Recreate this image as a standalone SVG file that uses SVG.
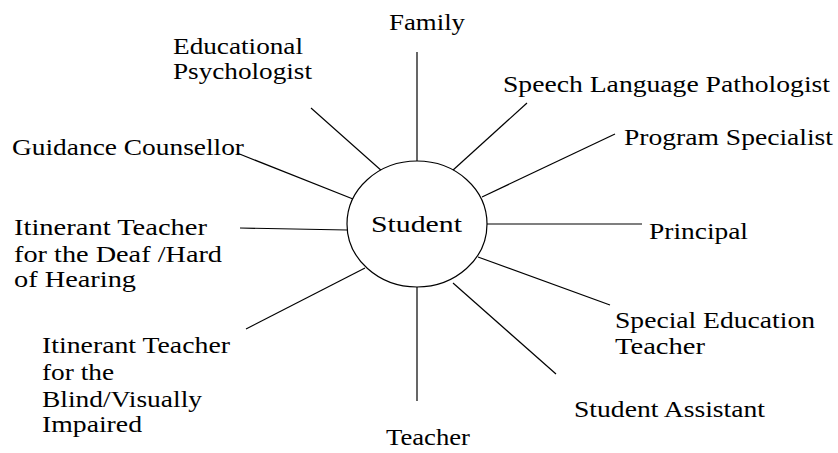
<svg xmlns="http://www.w3.org/2000/svg" width="838" height="453" viewBox="0 0 838 453">
  <style>
    .lbl { font-family: 'Liberation Serif', 'Times New Roman', Times, serif; font-size: 24px; fill: #000; }
    .spoke { stroke: #000; stroke-width: 1.2; fill: none; }
  </style>
  <rect width="838" height="453" fill="#fff"/>

  <!-- spokes from the student to each support role -->
  <g id="connectors">
    <line class="spoke" x1="417" y1="52" x2="417" y2="161"/>
    <line class="spoke" x1="311" y1="108" x2="383" y2="172"/>
    <line class="spoke" x1="237" y1="153" x2="353" y2="199"/>
    <line class="spoke" x1="240" y1="228" x2="347" y2="230"/>
    <line class="spoke" x1="246" y1="329" x2="365" y2="268"/>
    <line class="spoke" x1="417" y1="287" x2="417" y2="401"/>
    <line class="spoke" x1="453" y1="283" x2="556" y2="374"/>
    <line class="spoke" x1="478" y1="257" x2="610" y2="305"/>
    <line class="spoke" x1="485" y1="224" x2="642" y2="224"/>
    <line class="spoke" x1="482" y1="197" x2="615" y2="134"/>
    <line class="spoke" x1="452" y1="171" x2="527" y2="103"/>
  </g>

  <g id="student">
    <ellipse cx="417" cy="224" rx="70" ry="63" fill="#fff" stroke="#000" stroke-width="1.2"/>
    <text class="lbl" font-family="Liberation Serif" x="371" y="232" textLength="91" lengthAdjust="spacingAndGlyphs">Student</text>
  </g>

  <g id="family">
    <text class="lbl" x="389" y="30" textLength="76" lengthAdjust="spacingAndGlyphs">Family</text>
  </g>

  <g id="educational-psychologist">
    <text class="lbl" x="173" y="54" textLength="130" lengthAdjust="spacingAndGlyphs">Educational</text>
    <text class="lbl" x="173" y="79" textLength="139" lengthAdjust="spacingAndGlyphs">Psychologist</text>
  </g>

  <g id="speech-language-pathologist">
    <text class="lbl" x="503" y="92" textLength="327" lengthAdjust="spacingAndGlyphs">Speech Language Pathologist</text>
  </g>

  <g id="program-specialist">
    <text class="lbl" x="624" y="145" textLength="209" lengthAdjust="spacingAndGlyphs">Program Specialist</text>
  </g>

  <g id="guidance-counsellor">
    <text class="lbl" x="12" y="155" textLength="232" lengthAdjust="spacingAndGlyphs">Guidance Counsellor</text>
  </g>

  <g id="principal">
    <text class="lbl" x="649" y="239" textLength="99" lengthAdjust="spacingAndGlyphs">Principal</text>
  </g>

  <g id="itinerant-deaf">
    <text class="lbl" x="14" y="235" textLength="193" lengthAdjust="spacingAndGlyphs">Itinerant Teacher</text>
    <text class="lbl" x="14" y="262" textLength="208" lengthAdjust="spacingAndGlyphs">for the Deaf /Hard</text>
    <text class="lbl" x="14" y="287" textLength="122" lengthAdjust="spacingAndGlyphs">of Hearing</text>
  </g>

  <g id="itinerant-blind">
    <text class="lbl" x="42" y="353" textLength="188" lengthAdjust="spacingAndGlyphs">Itinerant Teacher</text>
    <text class="lbl" x="42" y="380" textLength="72" lengthAdjust="spacingAndGlyphs">for the</text>
    <text class="lbl" x="42" y="407" textLength="160" lengthAdjust="spacingAndGlyphs">Blind/Visually</text>
    <text class="lbl" x="42" y="432" textLength="100" lengthAdjust="spacingAndGlyphs">Impaired</text>
  </g>

  <g id="teacher">
    <text class="lbl" x="386" y="445" textLength="84" lengthAdjust="spacingAndGlyphs">Teacher</text>
  </g>

  <g id="student-assistant">
    <text class="lbl" x="574" y="417" textLength="191" lengthAdjust="spacingAndGlyphs">Student Assistant</text>
  </g>

  <g id="special-education-teacher">
    <text class="lbl" x="615" y="328" textLength="200" lengthAdjust="spacingAndGlyphs">Special Education</text>
    <text class="lbl" x="615" y="354" textLength="90" lengthAdjust="spacingAndGlyphs">Teacher</text>
  </g>
</svg>
